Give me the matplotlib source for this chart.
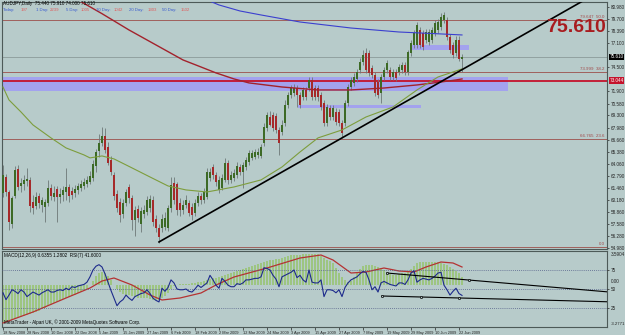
import matplotlib
matplotlib.use("Agg")
import matplotlib.pyplot as plt
import matplotlib.transforms as mtransforms
from matplotlib.patches import Rectangle
import numpy as np
import pandas as pd

plt.rcParams['font.family'] = ['Liberation Sans', 'DejaVu Sans']

# AUDJPY daily candles, 18 Nov 2008 .. 23 Jun 2009
opens = [60.93, 62.65, 61.03, 57.58, 60.60, 63.52, 61.68, 61.90, 62.22, 62.33,
         59.95, 59.52, 60.60, 59.63, 59.41, 59.85, 61.47, 60.49, 61.36, 60.49,
         60.71, 61.03, 61.57, 61.14, 60.93, 61.25, 61.47, 61.68, 61.90, 62.11,
         62.55, 63.84, 65.46, 66.33, 67.08, 65.89, 64.49, 62.87, 60.82, 59.95,
         58.66, 59.85, 61.57, 60.39, 58.01, 59.20, 57.58, 58.66, 58.87, 59.31,
         60.17, 58.12, 57.15, 57.15, 57.25, 57.15, 59.31, 62.01, 61.90, 59.85,
         59.09, 59.63, 59.85, 59.41, 58.77, 59.85, 60.60, 60.17, 60.49, 62.55,
         63.73, 62.87, 61.25, 61.47, 62.33, 64.17, 62.33, 62.55, 62.87, 63.73,
         63.19, 63.73, 64.27, 64.71, 64.81, 65.03, 64.92, 66.33, 67.95, 69.13,
         69.35, 69.24, 67.73, 67.51, 68.49, 70.43, 71.51, 71.73, 72.27, 71.51,
         71.29, 72.05, 72.27, 73.13, 72.27, 72.27, 71.51, 70.65, 68.49, 70.11,
         69.13, 69.67, 69.67, 68.49, 68.49, 70.65, 72.37, 72.81, 73.24, 74.21,
         75.07, 76.05, 76.05, 74.43, 73.67, 72.91, 71.73, 73.45, 74.21, 74.21,
         73.45, 73.99, 73.99, 74.21, 74.75, 73.99, 76.05, 76.91, 76.91, 78.53,
         78.21, 77.45, 77.23, 77.45, 78.21, 78.53, 78.85, 79.61, 79.61, 77.77,
         76.91, 76.05, 77.45, 75.44]
highs = [63.95, 62.98, 61.25, 60.60, 63.84, 63.95, 62.55, 62.87, 63.63, 62.65,
         60.71, 61.03, 60.93, 60.49, 60.28, 62.33, 61.90, 61.68, 61.68, 61.47,
         61.68, 63.63, 61.90, 61.57, 61.79, 62.01, 62.33, 62.55, 62.76, 63.30,
         64.49, 65.68, 67.30, 68.05, 67.95, 66.43, 64.92, 63.19, 61.25, 60.39,
         60.28, 61.36, 61.90, 60.71, 59.52, 59.63, 59.41, 59.63, 60.60, 60.71,
         60.60, 58.55, 57.58, 58.66, 58.87, 59.63, 62.65, 62.65, 62.11, 60.39,
         60.17, 60.71, 60.17, 59.85, 60.28, 61.03, 60.93, 61.47, 63.63, 63.63,
         64.06, 63.19, 62.76, 62.98, 64.71, 64.49, 63.30, 63.52, 64.27, 64.06,
         64.27, 64.81, 65.57, 65.57, 65.68, 65.79, 66.22, 68.49, 69.67, 69.78,
         69.67, 69.57, 68.05, 68.81, 70.97, 71.83, 72.59, 72.70, 72.59, 71.83,
         72.37, 72.37, 73.45, 73.45, 72.59, 72.59, 71.83, 70.97, 70.54, 70.43,
         70.43, 70.11, 70.00, 68.81, 70.97, 72.70, 73.45, 73.89, 74.32, 75.51,
         76.37, 76.59, 76.37, 74.75, 73.99, 73.24, 73.78, 74.53, 75.29, 74.53,
         74.32, 74.32, 74.86, 75.07, 75.07, 76.37, 77.45, 78.53, 79.39, 78.85,
         78.53, 78.64, 78.64, 78.85, 79.61, 79.72, 80.37, 80.47, 79.93, 78.10,
         77.23, 77.88, 77.88, 75.91]
lows = [60.49, 60.60, 56.93, 57.15, 60.39, 61.25, 61.03, 61.25, 61.68, 58.87,
        58.66, 59.20, 59.31, 58.87, 57.79, 59.52, 60.17, 60.06, 57.79, 59.85,
        60.06, 60.17, 59.95, 60.28, 60.49, 60.82, 61.14, 61.36, 61.57, 61.90,
        62.22, 63.19, 64.81, 66.00, 65.25, 63.95, 62.87, 60.17, 58.87, 57.79,
        58.23, 59.52, 59.85, 56.93, 56.28, 57.79, 56.71, 58.23, 58.55, 58.87,
        57.36, 56.71, 55.53, 56.71, 56.93, 56.82, 58.87, 59.74, 58.55, 58.44,
        58.66, 59.31, 58.44, 58.01, 58.44, 59.52, 59.74, 59.85, 60.28, 62.22,
        62.44, 61.68, 60.93, 61.25, 62.11, 61.90, 62.01, 62.22, 62.55, 62.87,
        61.47, 63.41, 63.95, 64.49, 64.60, 64.71, 64.71, 66.00, 67.62, 68.16,
        67.62, 67.41, 65.03, 67.19, 68.16, 70.11, 71.19, 71.40, 70.21, 70.11,
        70.97, 70.97, 71.94, 70.97, 70.97, 70.86, 69.89, 68.16, 68.16, 68.81,
        68.81, 68.27, 68.16, 66.87, 68.16, 70.32, 72.05, 72.48, 72.91, 73.89,
        74.75, 73.89, 73.56, 73.35, 71.40, 71.19, 70.65, 73.13, 73.89, 73.13,
        73.13, 73.02, 73.67, 73.89, 73.67, 73.67, 75.72, 76.59, 76.59, 76.59,
        76.37, 77.13, 76.91, 77.13, 77.88, 78.21, 78.53, 79.29, 77.45, 76.05,
        75.51, 75.72, 75.18, 74.00]
closes = [62.87, 61.03, 57.79, 60.39, 63.41, 61.57, 62.01, 62.33, 62.44, 59.52,
          59.31, 60.49, 59.85, 60.17, 59.95, 61.47, 60.60, 60.93, 60.49, 60.82,
          61.25, 61.57, 60.60, 60.71, 61.36, 61.68, 61.90, 62.11, 62.33, 62.76,
          64.06, 65.35, 66.33, 67.08, 65.57, 64.17, 63.19, 60.60, 59.31, 58.55,
          59.85, 61.03, 60.39, 58.01, 59.09, 58.23, 58.98, 59.09, 60.17, 60.28,
          57.79, 57.15, 56.17, 58.12, 58.23, 59.31, 61.79, 60.17, 59.09, 59.09,
          59.63, 60.17, 58.77, 58.55, 59.85, 60.60, 60.17, 61.03, 63.19, 63.19,
          62.87, 62.11, 62.33, 62.55, 64.17, 62.33, 62.87, 63.09, 63.84, 63.19,
          63.95, 64.49, 65.25, 65.25, 65.35, 65.35, 65.89, 68.05, 69.35, 68.27,
          67.95, 67.73, 66.33, 68.27, 70.43, 71.51, 72.27, 72.27, 71.51, 70.43,
          72.05, 71.29, 73.13, 71.29, 71.29, 71.29, 70.21, 68.49, 70.21, 69.13,
          70.11, 68.59, 68.49, 67.41, 70.65, 72.37, 73.13, 73.45, 73.99, 75.07,
          75.83, 74.21, 73.89, 73.67, 71.73, 71.51, 73.45, 74.21, 74.97, 73.45,
          73.99, 73.35, 74.53, 74.75, 73.99, 76.15, 77.13, 78.21, 79.07, 76.91,
          76.69, 78.31, 78.31, 78.53, 79.29, 79.39, 79.93, 80.15, 77.77, 76.37,
          75.83, 77.45, 75.40, 75.61]

# moving averages read at a few bars (bar index, price)
ma_green_bar = [0, 2, 6, 10, 16, 21, 27, 29, 33, 37, 43, 49, 55, 61, 68, 77, 86,
                93, 99, 105, 113, 121, 130, 138, 145, 152, 153]
ma_green = [72.37, 70.97, 69.67, 68.27, 66.87, 65.79, 65.03, 64.71, 64.92, 64.60,
            63.63, 62.65, 61.68, 61.25, 61.03, 61.57, 62.33, 63.73, 65.35, 66.87,
            67.73, 69.13, 70.21, 72.05, 73.45, 74.21, 74.32]
ma_red_bar = [23, 25, 33, 42, 51, 60, 66, 71, 77, 82, 93, 105, 116, 127, 138, 146, 151, 153]
ma_red = [82.2, 81.77, 80.29, 78.53, 76.91, 75.29, 74.53, 73.89, 73.24, 72.81,
          72.37, 72.05, 72.05, 72.26, 72.59, 72.91, 73.13, 73.24]
ma_blue_bar = [66, 68, 72, 79, 86, 99, 116, 132, 146, 153]
ma_blue = [82.0, 81.77, 81.23, 80.58, 80.15, 79.39, 78.74, 78.31, 78.10, 77.99]

# support line through two lows (bar, price)
trend_bar = [52, 113]
trend_price = [55.63, 66.87]

# levels
fib_price = [79.647, 73.999, 66.765, 55.10]
fib_label = ["79.647  50.0", "73.999  38.2", "66.765  23.6", "0.0"]
red_level = 73.044
bid = 75.61

# zones: start bar, end bar, low, high
zone_start = [-0.33, 98.3, 136.0]
zone_end = [168.3, 139.3, 155.3]
zone_low = [71.94, 70.11, 76.37]
zone_high = [73.45, 70.43, 76.91]

price_ticks = [80.98, 79.70, 78.39, 77.10, 74.50, 71.90, 70.58, 69.30, 67.98,
               66.66, 65.38, 64.06, 62.79, 61.46, 60.18, 58.86, 57.58, 56.28, 54.98]

# MACD histogram and signal, RSI(7)
macd_hist = [-3.7, -3.7, -3.6, -3.5, -3.4, -3.3, -3.2, -3.1, -3.0, -2.9,
             -2.8, -2.7, -2.6, -2.4, -2.3, -2.1, -2.0, -1.8, -1.7, -1.6,
             -1.4, -1.3, -1.2, -1.1, -1.0, -0.8, -0.7, -0.5, -0.4, 0.0,
             0.4, 0.9, 1.2, 1.3, 1.2, 0.9, 0.5, 0.0, -0.4, -0.7,
             -0.9, -1.0, -1.0, -1.1, -1.2, -1.3, -1.3, -1.3, -1.3, -1.4,
             -1.5, -1.5, -1.5, -1.3, -1.1, -0.8, -0.4, -0.1, 0.0, 0.1,
             0.1, 0.1, 0.1, 0.2, 0.2, 0.3, 0.3, 0.4, 0.5, 0.6,
             0.7, 0.7, 0.8, 0.9, 1.0, 1.1, 1.2, 1.3, 1.4, 1.5,
             1.6, 1.7, 1.8, 1.9, 2.0, 2.1, 2.2, 2.3, 2.4, 2.5,
             2.5, 2.6, 2.6, 2.7, 2.8, 2.9, 3.0, 3.0, 3.0, 3.0,
             3.1, 3.1, 3.1, 3.1, 3.1, 3.1, 2.9, 2.7, 2.5, 2.4,
             2.2, 1.7, 1.2, 0.8, 0.5, 0.3, 0.4, 0.8, 1.2, 1.6,
             1.9, 2.0, 2.0, 2.0, 1.9, 1.8, 1.7, 1.5, 1.3, 1.1,
             1.0, 1.0, 1.1, 1.2, 1.2, 1.3, 1.6, 1.9, 2.2, 2.3,
             2.3, 2.3, 2.3, 2.3, 2.3, 2.3, 2.2, 2.1, 2.0, 1.8,
             1.6, 1.4, 1.2, 0.8]
signal_bar = [0, 10, 21, 29, 33, 37, 43, 49, 53, 59, 66, 71, 77, 88, 99, 106, 110,
              116, 121, 127, 132, 137, 141, 146, 150, 153]
signal = [-3.8, -2.7, -1.3, -0.3, 0.4, 0.7, 0.0, -1.0, -1.5, -1.3, -0.8, 0.0, 0.8,
          1.7, 2.7, 3.0, 2.5, 1.2, 1.3, 1.7, 1.4, 1.3, 1.8, 2.3, 2.2, 1.8]
rsi = [45, 36, 42, 49, 47, 44, 49, 46, 40, 43,
       46, 44, 42, 45, 47, 49, 46, 46, 48, 49,
       48, 51, 49, 53, 52, 54, 55, 56, 59, 66,
       75, 80, 82, 79, 70, 59, 48, 38, 28, 33,
       36, 42, 38, 35, 40, 42, 44, 45, 49, 44,
       38, 35, 33, 51, 47, 52, 62, 58, 50, 49,
       49, 50, 47, 46, 50, 55, 52, 55, 58, 68,
       62, 55, 51, 64, 60, 55, 53, 53, 57, 56,
       58, 62, 62, 63, 64, 64, 66, 78, 77, 75,
       68, 63, 53, 66, 68, 70, 72, 75, 65, 68,
       62, 59, 75, 59, 58, 58, 62, 40, 49, 49,
       48, 45, 49, 40, 52, 58, 62, 64, 66, 70,
       73, 72, 62, 49, 53, 46, 58, 60, 58, 56,
       55, 54, 58, 58, 56, 62, 71, 74, 59, 62,
       64, 63, 62, 64, 67, 71, 72, 55, 49, 42,
       47, 51, 44, 41.6]
rsi_upper_bar = [128, 155.3]
rsi_upper = [71.0, 61.8]
rsi_lower_bar = [126.3, 139.3, 152.0]
rsi_lower = [40.8, 39.5, 38.2]

# volume stats in the header
stat_names = ["Today:", "1 Day:", "5 Day:", "10 Day:", "20 Day:", "50 Day:"]
stat_values = ["197", "2239", "1005", "1042", "1303", "1502"]

# ---------------------------------------------------------------
bg = "#b7cbca"
W, H = 625, 335


def rect(x0, y0, x1, y1):
    return [x0 / W, 1 - y1 / H, (x1 - x0) / W, (y1 - y0) / H]


fig = plt.figure(figsize=(6.25, 3.35), dpi=100, facecolor=bg)
ax = fig.add_axes(rect(2, 2, 607, 249))
axi = fig.add_axes(rect(2, 251, 607, 327))
xlim = (-0.33, 201.33)

for a in (ax, axi):
    a.set_facecolor(bg)
    a.set_xlim(*xlim)
    for s in a.spines.values():
        s.set_color("#4d5a58")
        s.set_linewidth(0.8)

n = len(closes)
idx = np.arange(n)
o, h, l, c = map(np.array, (opens, highs, lows, closes))
ax.set_ylim(54.87, 81.55)

# zones
for x0, x1, lo, hi in zip(zone_start, zone_end, zone_low, zone_high):
    ax.add_patch(Rectangle((x0, lo), x1 - x0, hi - lo, facecolor="#a3a2ee",
                           edgecolor="none", zorder=1))

# horizontal levels
bt = mtransforms.blended_transform_factory(ax.transAxes, ax.transData)
for p, lab in zip(fib_price, fib_label):
    ax.axhline(p, color="#a0605c", lw=0.7, zorder=2)
    ax.text(0.996, p + 0.12, lab, transform=bt, ha="right", va="bottom",
            fontsize=3.2, color="#a04848")
ax.axhline(bid, color="#8b9a99", lw=0.6, zorder=2)
ax.axhline(red_level, color="#c4132c", lw=1.3, zorder=2)

# candles
up = c >= o
ax.vlines(idx, l, h, color="#6d7877", lw=0.6, zorder=3)
ax.bar(idx, np.maximum(np.abs(c - o), 0.07), bottom=np.minimum(o, c), width=0.64,
       color=np.where(up, "#3d6a26", "#a52a2a"), linewidth=0, zorder=4)

# moving averages
ax.plot(ma_red_bar, ma_red, color="#a3222c", lw=1.0, zorder=5)
ax.plot(ma_green_bar, ma_green, color="#7d9d3c", lw=0.8, zorder=5)
ax.plot(ma_blue_bar, ma_blue, color="#3b3fcf", lw=0.8, zorder=5)

# trend line extended to the right edge
slope = (trend_price[1] - trend_price[0]) / (trend_bar[1] - trend_bar[0])
ax.plot([trend_bar[0], xlim[1]], [trend_price[0], trend_price[0] + slope * (xlim[1] - trend_bar[0])],
        color="black", lw=1.2, zorder=6)

# right price scale
ax.yaxis.tick_right()
ax.set_yticks(price_ticks)
ax.set_yticklabels([f"{t:.3f}" for t in price_ticks])
ax.tick_params(axis="y", labelsize=3.3, length=1.5, width=0.5, pad=1.5, colors="#222222")
ax.set_xticks([])
ax.text(1.004, bid, f"{bid:.3f}", transform=bt, ha="left", va="center", fontsize=3.3,
        color="white", bbox=dict(fc="black", ec="none", pad=0.6), zorder=10, clip_on=False)
ax.text(1.004, red_level, f"{red_level:.3f}", transform=bt, ha="left", va="center", fontsize=3.3,
        color="white", bbox=dict(fc="#c4132c", ec="none", pad=0.6), zorder=10, clip_on=False)

# big price label
fig.text(606 / W, 1 - 28 / H, f"{bid:.3f}", ha="right", va="center", fontsize=14,
         fontweight="bold", color="#a81c1f")

# header text
fig.text(3 / W, 1 - 4 / H, f"AUDJPY,Daily  {opens[-1]:.3f} {highs[-1]:.3f} {lows[-1]:.3f} {closes[-1]:.3f}",
         fontsize=3.3, va="center", color="black")
name_x = [3, 36, 66, 96, 129, 162]
value_x = [21, 50, 81, 114, 148, 181]
for nm, vl, nx, vx in zip(stat_names, stat_values, name_x, value_x):
    fig.text(nx / W, 1 - 10 / H, nm, fontsize=3.1, va="center", color="#3a5bd0")
    fig.text(vx / W, 1 - 10 / H, vl, fontsize=3.1, va="center", color="#e05c5c")

# ---------------- indicator window ----------------
axi.set_ylim(-4.2, 3.4)
axi.bar(idx, macd_hist, width=0.8, color="#9dc581", linewidth=0, zorder=2)
axi.plot(signal_bar, signal, color="#b53232", lw=0.9, zorder=3)
axi.set_yticks([])

axr = axi.twinx()
axr.set_ylim(0, 100)
axr.set_xlim(*xlim)
for lvl in (75, 50, 25):
    axr.axhline(lvl, color="#55608a", lw=0.6, ls=(0, (1, 1.5)), zorder=1)
axr.plot(idx, rsi, color="#1d2a8c", lw=0.8, zorder=4)
up_slope = (rsi_upper[1] - rsi_upper[0]) / (rsi_upper_bar[1] - rsi_upper_bar[0])
lo_slope = (rsi_lower[-1] - rsi_lower[0]) / (rsi_lower_bar[-1] - rsi_lower_bar[0])
axr.plot([rsi_upper_bar[0], xlim[1]],
         [rsi_upper[0], rsi_upper[0] + up_slope * (xlim[1] - rsi_upper_bar[0])],
         color="black", lw=0.8, zorder=5)
axr.plot([rsi_lower_bar[0], xlim[1]],
         [rsi_lower[0], rsi_lower[0] + lo_slope * (xlim[1] - rsi_lower_bar[0])],
         color="black", lw=0.8, zorder=5)
axr.plot(rsi_upper_bar, rsi_upper, "o", ms=1.6, mfc=bg, mec="black", mew=0.5, zorder=6)
axr.plot(rsi_lower_bar, rsi_lower, "o", ms=1.6, mfc=bg, mec="black", mew=0.5, zorder=6)
axr.set_yticks([75, 50, 25])
axr.tick_params(axis="y", labelsize=3.3, length=1.5, width=0.5, pad=1.5, colors="#222222")
for s in axr.spines.values():
    s.set_visible(False)

it = mtransforms.blended_transform_factory(axi.transAxes, axi.transData)
axi.text(1.006, 3.35, "3.5904", transform=it, fontsize=3.3, va="top", color="#222222", clip_on=False)
axi.text(1.006, 0.1, "0.00", transform=it, fontsize=3.3, va="bottom", color="#222222", clip_on=False)
axi.text(1.006, -4.1, "-3.2771", transform=it, fontsize=3.1, va="bottom", color="#222222", clip_on=False)

axi.text(0.003, 0.97, f"MACD(12,26,9) 0.6355 1.2802  RSI(7) {rsi[-1]:.4f}",
         transform=axi.transAxes, fontsize=3.3, va="top", ha="left", color="black")
axi.text(0.003, 0.02, "MetaTrader - Alpari UK, \u00a9 2001-2009 MetaQuotes Software Corp.",
         transform=axi.transAxes, fontsize=3.3, va="bottom", ha="left", color="black")

# dates on trading days only
days = pd.bdate_range("2008-11-18", periods=n + 2)
days = days[~days.isin(pd.to_datetime(["2008-12-25", "2009-01-01"]))][:n]
tick_pos = idx[::8]
axi.set_xticks(tick_pos)
axi.set_xticklabels([f"{d.day} {d:%b %Y}" for d in days[tick_pos]], ha="left")
axi.tick_params(axis="x", labelsize=2.8, length=2, width=0.5, pad=1, colors="#222222")

fig.savefig("out.png", dpi=100, facecolor=bg)
